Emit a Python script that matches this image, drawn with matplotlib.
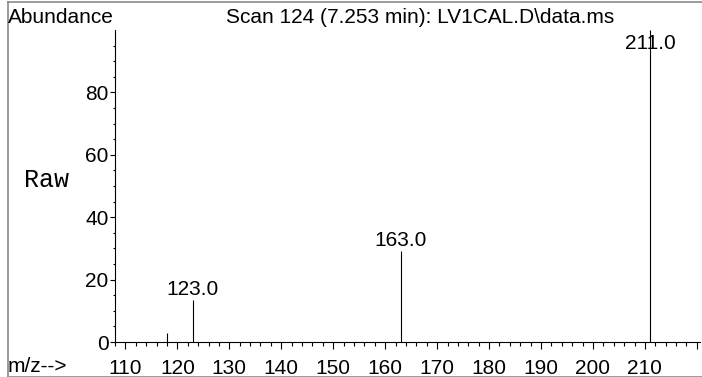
import matplotlib
matplotlib.use('Agg')
import matplotlib.pyplot as plt
from matplotlib.lines import Line2D
import numpy as np

# spectrum data (m/z, abundance %)
mz = [118.0, 123.0, 163.0, 211.0]
abund = [2.9, 13.4, 29.1, 100.0]
labelled = [123.0, 163.0, 211.0]

title = 'Scan 124 (7.253 min): LV1CAL.D\\data.ms'

W, H = 702, 377
plt.rcParams['font.family'] = ['Liberation Sans', 'DejaVu Sans']
FS = 15

fig = plt.figure(figsize=(W / 100, H / 100), dpi=100)

def fx(px):
    return px / W

def fy(py):
    return 1 - py / H

ax = fig.add_axes([fx(115), fy(342), fx(700) - fx(115), fy(30) - fy(342)])

# stick spectrum
ax.vlines(mz, 0, abund, colors='black', linewidth=0.8)
for m, a in zip(mz, abund):
    if m in labelled:
        y = min(a + 1.6, 94.0)
        ax.text(m, y, f'{m:.1f}', ha='center', va='baseline', fontsize=FS)

ax.set_xlim(108.08, 220.6)
ax.set_ylim(0, 100)

ax.set_xticks(np.arange(110, 221, 10))
ax.set_xticklabels([str(v) for v in range(110, 211, 10)] + [''])
ax.set_xticks(np.arange(108, 221, 2), minor=True)
ax.set_yticks([0, 20, 40, 60, 80])
ax.set_yticks(np.arange(0, 100, 5), minor=True)

for s in ['top', 'right']:
    ax.spines[s].set_visible(False)
for s in ['left', 'bottom']:
    ax.spines[s].set_linewidth(0.8)

ax.tick_params(axis='x', which='major', direction='out', length=5, width=0.8, pad=7, labelsize=FS)
ax.tick_params(axis='x', which='minor', direction='out', length=3, width=0.8)
ax.tick_params(axis='y', which='major', direction='out', length=3.5, width=0.8, pad=1, labelsize=FS)
ax.tick_params(axis='y', which='minor', direction='out', length=1.5, width=0.8)

# header / side texts
fig.text(fx(8), fy(23), 'Abundance', fontsize=FS, va='baseline', ha='left')
fig.text(fx(420), fy(23), title, fontsize=FS, va='baseline', ha='center')
fig.text(fx(24), fy(187), 'Raw', fontsize=18, va='baseline', ha='left',
         family='Liberation Mono')
fig.text(fx(8), fy(372), 'm/z-->', fontsize=FS, va='baseline', ha='left')

# outer frame
fc = '#8a8a8a'
fig.add_artist(Line2D([fx(7.5), fx(7.5)], [fy(1.5), fy(376.5)], color=fc, linewidth=1.2))
fig.add_artist(Line2D([fx(7.5), 1], [fy(1.5), fy(1.5)], color=fc, linewidth=1.2))
fig.add_artist(Line2D([fx(7.5), 1], [fy(376.5), fy(376.5)], color=fc, linewidth=1.2))

fig.savefig('out.png', dpi=100)
